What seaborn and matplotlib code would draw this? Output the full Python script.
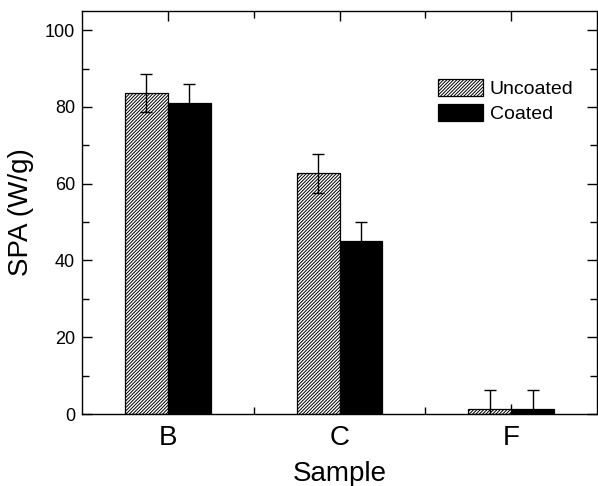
import numpy as np
import pandas as pd
import matplotlib
matplotlib.use("Agg")
import matplotlib.pyplot as plt
from matplotlib.ticker import MultipleLocator, FixedLocator
import seaborn as sns

samples = ["B", "C", "F"]
conditions = ["Uncoated", "Coated"]
uncoated = [83.7, 62.7, 1.2]
coated = [81.0, 45.1, 1.2]
uncoated_err = [5.0, 5.0, 5.0]
coated_err = [5.0, 5.0, 5.0]

df = pd.DataFrame({
    "Sample": samples * 2,
    "Condition": [conditions[0]] * 3 + [conditions[1]] * 3,
    "SPA": uncoated + coated,
})

sns.set_style("ticks")
plt.rcParams['font.family'] = ['Liberation Sans', 'DejaVu Sans']
plt.rcParams['hatch.linewidth'] = 0.7
plt.rcParams['text.color'] = 'black'
plt.rcParams['xtick.color'] = 'black'
plt.rcParams['ytick.color'] = 'black'
plt.rcParams['axes.labelcolor'] = 'black'

fig = plt.figure(figsize=(5.98, 4.86), dpi=100)
ax = fig.add_axes([82 / 598, 72 / 486, 515 / 598, 403 / 486])

sns.barplot(data=df, x="Sample", y="SPA", hue="Condition", order=samples,
            hue_order=conditions, palette=["white", "black"], width=0.5,
            edgecolor="black", linewidth=0.9, errorbar=None, legend=False, ax=ax)

for p in ax.containers[0]:
    p.set_hatch("/" * 10)

errs = [uncoated_err, coated_err]
for cont, err in zip(ax.containers, errs):
    xs = [p.get_x() + p.get_width() / 2 for p in cont]
    ys = [p.get_height() for p in cont]
    ax.errorbar(xs, ys, yerr=err, fmt="none", ecolor="black", elinewidth=1,
                capsize=4.5, capthick=1, zorder=5)

ax.set_xlim(-0.5, 2.5)
ax.set_ylim(0, 105)
ax.yaxis.set_major_locator(MultipleLocator(20))
ax.yaxis.set_minor_locator(MultipleLocator(10))
ax.xaxis.set_minor_locator(FixedLocator([0.5, 1.5]))

ax.tick_params(axis="both", which="both", direction="in", top=True, right=True,
               width=1, color="black", labelcolor="black")
ax.tick_params(axis="both", which="major", length=7)
ax.tick_params(axis="both", which="minor", length=5)
ax.tick_params(axis="x", labelsize=20, pad=8)
ax.tick_params(axis="y", labelsize=13, pad=5)
for s in ax.spines.values():
    s.set_linewidth(1)
    s.set_color("black")

ax.set_xlabel("Sample", fontsize=20, labelpad=7)
ax.set_ylabel("SPA (W/g)", fontsize=20, labelpad=8)

ax.legend(ax.containers[:2], conditions, loc="upper left",
          bbox_to_anchor=(438 / 598, 1 - 79 / 486), bbox_transform=fig.transFigure,
          frameon=False, fontsize=14, handlelength=2.3, handleheight=0.95,
          handletextpad=0.35, labelspacing=0.3, borderpad=0, borderaxespad=0)

fig.savefig("out.png", dpi=100)
